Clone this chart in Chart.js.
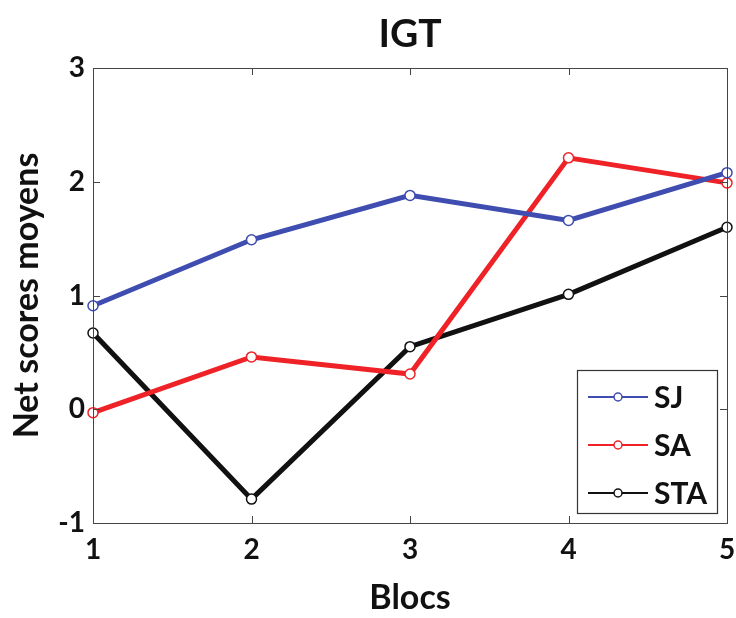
<!DOCTYPE html>
<html lang="fr">
<head>
  <meta charset="UTF-8">
  <title>IGT</title>
  <script src="https://cdn.jsdelivr.net/npm/chart.js"></script>
  <style>
    html, body { margin: 0; padding: 0; background: #fff; }
    #wrap { width: 736px; height: 618px; }
  </style>
</head>
<body>
  <div id="wrap"><canvas id="igtChart" width="736" height="618"></canvas></div>
  <script>
    // data
    const blocs = ['1', '2', '3', '4', '5'];
    const sjScores = [0.91, 1.49, 1.88, 1.66, 2.08];
    const saScores = [-0.03, 0.46, 0.31, 2.21, 1.99];
    const staScores = [0.67, -0.79, 0.55, 1.01, 1.60];
    const yTicks = [-1, 0, 1, 2, 3];
    const chartTitle = 'IGT';

    const FONT = 'Lato, "Open Sans", sans-serif';

    // title centred over the plot box (MATLAB style), not the whole canvas
    const plotTitle = {
      id: 'plotTitle',
      afterDraw(chart) {
        const { ctx, chartArea: a } = chart;
        ctx.save();
        ctx.fillStyle = '#111';
        ctx.font = 'bold 39px ' + FONT;
        ctx.textAlign = 'center';
        ctx.textBaseline = 'middle';
        ctx.fillText(chartTitle, (a.left + a.right) / 2, 34);
        ctx.restore();
      }
    };

    // MATLAB style inward ticks on all four sides
    const inwardTicks = {
      id: 'inwardTicks',
      afterDatasetsDraw(chart) {
        const { ctx, chartArea: a, scales } = chart;
        const len = 7;
        ctx.save();
        ctx.strokeStyle = '#444';
        ctx.lineWidth = 1;
        ctx.beginPath();
        blocs.forEach((b, i) => {
          const x = Math.round(scales.x.getPixelForValue(i)) + 0.5;
          ctx.moveTo(x, a.bottom); ctx.lineTo(x, a.bottom - len);
          ctx.moveTo(x, a.top); ctx.lineTo(x, a.top + len);
        });
        yTicks.forEach(v => {
          const y = Math.round(scales.y.getPixelForValue(v)) + 0.5;
          ctx.moveTo(a.left, y); ctx.lineTo(a.left + len, y);
          ctx.moveTo(a.right, y); ctx.lineTo(a.right - len, y);
        });
        ctx.stroke();
        ctx.strokeRect(a.left + 0.5, a.top + 0.5, a.right - a.left, a.bottom - a.top);
        ctx.restore();
      }
    };

    // legend box inside the plot, lower right
    const boxLegend = {
      id: 'boxLegend',
      afterDraw(chart) {
        const { ctx, chartArea: a } = chart;
        const w = 140, h = 143;
        const x0 = a.right - 10 - w, y0 = a.bottom - 10 - h;
        ctx.save();
        ctx.fillStyle = '#fff';
        ctx.fillRect(x0, y0, w, h);
        ctx.strokeStyle = '#333';
        ctx.lineWidth = 1.2;
        ctx.strokeRect(x0 + 0.5, y0 + 0.5, w, h);
        chart.data.datasets.forEach((ds, i) => {
          const y = y0 + 27 + i * 48;
          ctx.strokeStyle = ds.borderColor;
          ctx.lineWidth = 2;
          ctx.beginPath();
          ctx.moveTo(x0 + 11, y); ctx.lineTo(x0 + 71, y);
          ctx.stroke();
          ctx.beginPath();
          ctx.fillStyle = '#fff';
          ctx.arc(x0 + 41, y, 4, 0, Math.PI * 2);
          ctx.fill();
          ctx.lineWidth = 1.5;
          ctx.stroke();
          ctx.fillStyle = '#111';
          ctx.font = 'bold 30px ' + FONT;
          ctx.textBaseline = 'middle';
          ctx.fillText(ds.label, x0 + 77, y + 1);
        });
        ctx.restore();
      }
    };

    function series(label, data, color) {
      return {
        label: label,
        data: data,
        borderColor: color,
        backgroundColor: color,
        borderWidth: 5,
        pointRadius: 5,
        pointBorderWidth: 1.5,
        pointBackgroundColor: '#fff',
        pointBorderColor: color,
        tension: 0
      };
    }

    new Chart(document.getElementById('igtChart'), {
      type: 'line',
      data: {
        labels: blocs,
        datasets: [
          series('SJ', sjScores, '#3f4db0'),
          series('SA', saScores, '#ee2227'),
          series('STA', staScores, '#111111')
        ]
      },
      options: {
        responsive: false,
        animation: false,
        layout: { padding: { left: 0, right: 9, top: 68, bottom: 0 } },
        plugins: {
          legend: { display: false },
          tooltip: { enabled: false },
          title: { display: false }
        },
        scales: {
          x: {
            offset: false,
            grid: { display: false, drawTicks: false },
            border: { display: false },
            ticks: {
              color: '#111',
              padding: 10,
              maxRotation: 0,
              font: { family: FONT, size: 28, weight: 'bold' }
            },
            title: {
              display: true,
              text: 'Blocs',
              color: '#111',
              font: { family: FONT, size: 34, weight: 'bold' },
              padding: { top: 0, bottom: 0 }
            },
            afterFit(scale) {
              scale.height = 95;
              scale.paddingLeft = 0;
              scale.paddingRight = 0;
            }
          },
          y: {
            min: -1,
            max: 3,
            afterBuildTicks(scale) { scale.ticks = yTicks.map(v => ({ value: v })); },
            grid: { display: false, drawTicks: false },
            border: { display: false },
            ticks: {
              color: '#111',
              padding: 8,
              font: { family: FONT, size: 28, weight: 'bold' }
            },
            title: {
              display: true,
              text: 'Net scores moyens',
              color: '#111',
              font: { family: FONT, size: 34, weight: 'bold' },
              padding: { top: 7, bottom: 0 }
            },
            afterFit(scale) {
              scale.width = 93;
              scale.paddingTop = 0;
              scale.paddingBottom = 0;
            }
          }
        }
      },
      plugins: [inwardTicks, boxLegend, plotTitle]
    });
  </script>
</body>
</html>
